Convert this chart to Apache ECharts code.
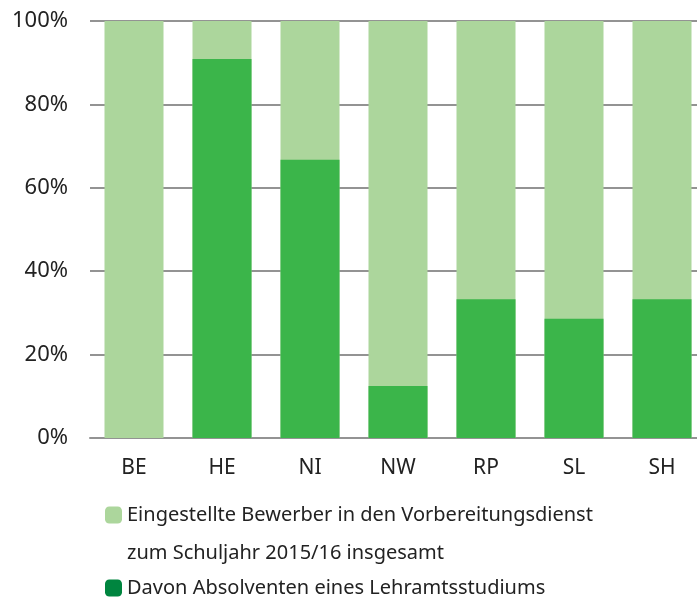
<!DOCTYPE html>
<html>
<head>
<meta charset="utf-8">
<title>Bewerber</title>
<script src="https://cdn.jsdelivr.net/npm/echarts@6/dist/echarts.min.js"></script>
<style>
  html, body { margin: 0; padding: 0; background: #fff; }
  #chart { width: 697px; height: 599px; }
</style>
</head>
<body>
<div id="chart"></div>
<script>
// Länder
var laender = ['BE', 'HE', 'NI', 'NW', 'RP', 'SL', 'SH'];
// Eingestellte Bewerber insgesamt (= 100 %)
var insgesamt = [100, 100, 100, 100, 100, 100, 100];
// Davon Absolventen eines Lehramtsstudiums (%)
var absolventen = [0, 90.9, 66.7, 12.5, 33.3, 28.6, 33.3];

var nameGesamt = 'Eingestellte Bewerber in den Vorbereitungsdienst\nzum Schuljahr 2015/16 insgesamt';
var nameDavon = 'Davon Absolventen eines Lehramtsstudiums';

var font = 'Noto Sans';
var myChart = echarts.init(document.getElementById('chart'));

var option = {
  animation: false,
  textStyle: { fontFamily: font },
  grid: { left: 90, top: 21, width: 616, height: 417, containLabel: false, outerBoundsMode: 'none' },
  legend: [{
    data: [{ name: nameGesamt, itemStyle: { color: '#acd69c' } }],
    left: 100, top: 453,
    itemWidth: 17, itemHeight: 17, itemGap: 0,
    selectedMode: false,
    // leere erste Zeile, damit das Symbol neben der ersten Textzeile steht
    formatter: function (n) { return '\n' + n; },
    textStyle: { fontSize: 20, color: '#222', lineHeight: 38 }
  }, {
    data: [{ name: nameDavon, itemStyle: { color: '#00853f' } }],
    left: 100, top: 573,
    itemWidth: 17, itemHeight: 17,
    selectedMode: false,
    textStyle: { fontSize: 20, color: '#222' }
  }],
  xAxis: {
    type: 'category',
    data: laender,
    axisTick: { show: false },
    axisLine: { lineStyle: { color: '#939393', width: 2 } },
    axisLabel: { fontSize: 21, color: '#222', margin: 20 }
  },
  yAxis: {
    type: 'value',
    min: 0, max: 100, interval: 20,
    axisLabel: { formatter: '{value}%', fontSize: 22, color: '#222', margin: 22, padding: [5, 0, 0, 0] },
    axisLine: { show: false },
    splitLine: { lineStyle: { color: '#939393', width: 2 } }
  },
  series: [{
    name: nameGesamt,
    type: 'bar',
    data: insgesamt,
    barWidth: 59,
    itemStyle: { color: '#acd69c' }
  }, {
    name: nameDavon,
    type: 'bar',
    data: absolventen,
    barWidth: 59,
    barGap: '-100%',
    itemStyle: { color: '#3bb54a' }
  }]
};

myChart.setOption(option);
</script>
</body>
</html>
